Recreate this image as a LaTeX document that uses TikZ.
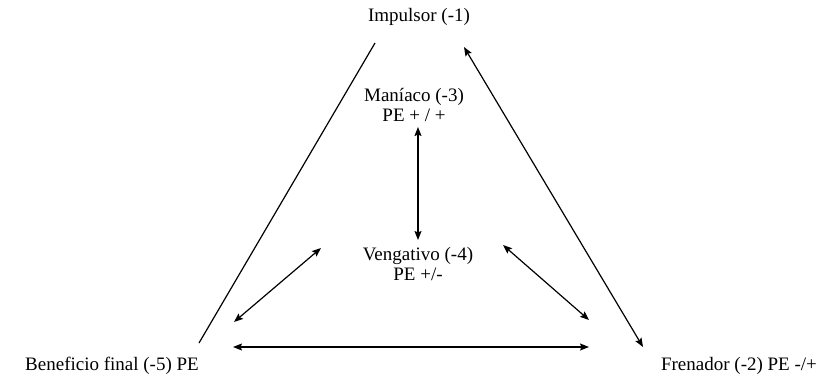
\documentclass[tikz,border=0pt]{standalone}
\usepackage{fontspec}
\setmainfont{Liberation Serif}
\usetikzlibrary{arrows.meta}

\begin{document}
\begin{tikzpicture}[x=1pt,y=-1pt,every node/.style={font=\fontsize{19}{20.5}\selectfont,align=center,inner sep=0pt},
  link/.style={line width=1.2pt,{Stealth[length=9pt,width=7pt,inset=1.5pt]}-{Stealth[length=9pt,width=7pt,inset=1.5pt]}}]
\useasboundingbox (0,0) rectangle (818,376);
\node (imp) at (419,17) {Impulsor (-1)};
\node (man) at (414,105) {Maníaco (-3)\\PE + / +};
\node (ven) at (418,264) {Vengativo (-4)\\PE +/-};
\node (ben) at (112,366) {Beneficio final (-5) PE};
\node (fre) at (739,366) {Frenador (-2) PE -/+};
\coordinate (l1) at (375,43);
\coordinate (l2) at (199,343);
\coordinate (r1) at (464,47);
\coordinate (r2) at (643,347);
\coordinate (m1) at (418,127);
\coordinate (m2) at (418,240);
\coordinate (a1) at (321,248);
\coordinate (a2) at (234,322);
\coordinate (b1) at (503,245);
\coordinate (b2) at (589,320);
\coordinate (h1) at (233,347);
\coordinate (h2) at (589,347);
\draw[line width=1.2pt] (l1)--(l2);
\draw[link] (r1)--(r2);
\draw[link] (m1)--(m2);
\draw[link] (a1)--(a2);
\draw[link] (b1)--(b2);
\draw[link] (h1)--(h2);
\end{tikzpicture}
\end{document}
